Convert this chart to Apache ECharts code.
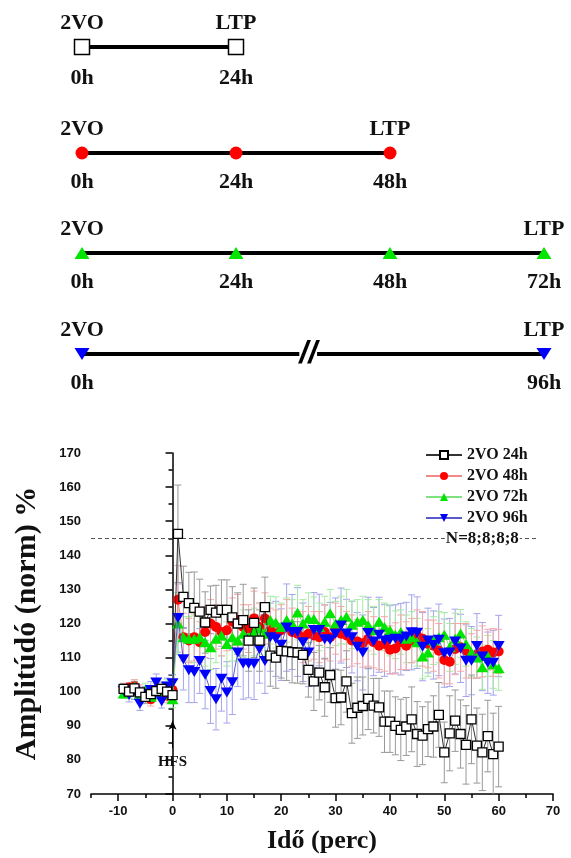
<!DOCTYPE html>
<html>
<head>
<meta charset="utf-8">
<script src="https://cdn.jsdelivr.net/npm/echarts@6/dist/echarts.min.js"></script>
<style>
  html, body { margin: 0; padding: 0; background: #fff; }
  #myChart { width: 571px; height: 858px; }
</style>
</head>
<body>
<div id="myChart"></div>
<script>
// idő (perc)
const minutes = [
  -9, -8, -7, -6, -5, -4, -3, -2, -1, 0,
  1, 2, 3, 4, 5, 6, 7, 8, 9, 10,
  11, 12, 13, 14, 15, 16, 17, 18, 19, 20,
  21, 22, 23, 24, 25, 26, 27, 28, 29, 30,
  31, 32, 33, 34, 35, 36, 37, 38, 39, 40,
  41, 42, 43, 44, 45, 46, 47, 48, 49, 50,
  51, 52, 53, 54, 55, 56, 57, 58, 59, 60
];

const amp24h = [
  100.8, 100.0, 101.0, 99.8, 98.5, 99.3, 100.2, 100.8, 100.0, 99.0,
  146.3, 127.8, 126.0, 124.6, 123.5, 120.3, 124.0, 123.2, 124.0, 124.0,
  121.8, 120.0, 121.0, 115.0, 120.2, 115.0, 124.8, 110.6, 110.0, 112.0,
  111.8, 111.6, 111.5, 110.8, 106.4, 103.0, 105.6, 101.3, 104.9, 98.1,
  98.3, 103.0, 93.7, 95.3, 95.8, 97.9, 95.9, 95.4, 91.2, 91.2,
  90.0, 88.8, 89.8, 91.9, 87.6, 87.1, 89.0, 89.8, 93.2, 82.2,
  87.8, 91.5, 87.6, 84.4, 91.9, 84.2, 82.2, 87.0, 81.7, 83.9
];
const err24h = [
  1.5, 1.5, 2, 1.5, 2, 1.5, 1.5, 2, 1.5, 2,
  14.3, 9, 9, 10.5, 9.5, 9, 7, 8, 8.8, 8.8,
  9, 9, 10.5, 9, 10.2, 9, 8.8, 9, 9, 8,
  8.5, 9, 9, 8.5, 8, 8.5, 8, 8.5, 8, 8.5,
  8, 9, 8.8, 9, 8.5, 9, 8, 8.5, 9, 9,
  8.5, 9, 8.5, 9.5, 9.5, 8.5, 8, 9, 9.5, 8.9,
  11, 9, 10, 11.5, 13, 11, 11.2, 10.5, 12, 11.8
];

const amp48h = [
  100.5, 101.2, 101.5, 99.5, 98.5, 97.8, 100.5, 100.5, 98.8, 100.5,
  127.0, 116.0, 115.0, 116.0, 114.5, 117.5, 120.0, 119.0, 117.5, 118.0,
  120.5, 121.0, 119.0, 118.5, 121.5, 119.0, 121.5, 118.0, 117.0, 118.0,
  119.0, 117.5, 117.0, 116.0, 117.0, 116.5, 116.0, 117.5, 116.0, 118.5,
  117.0, 116.5, 115.0, 114.7, 114.2, 115.5, 114.5, 113.5, 114.0, 112.3,
  112.7, 114.5, 113.5, 115.0, 116.5, 115.5, 114.0, 113.5, 112.0, 109.3,
  108.8, 112.5, 113.0, 112.0, 110.5, 111.0, 111.8, 112.3, 111.5, 111.8
];
const err48h = [
  2, 1.5, 2, 2.5, 1.5, 2, 2, 1.5, 2, 2.5,
  10, 7, 6.5, 7, 6, 7.5, 7, 6.5, 7, 6,
  7, 7.5, 6.5, 7, 8, 7, 7.5, 6.5, 7, 7.5,
  8, 7, 6.5, 7.5, 8, 7, 7.5, 8, 7, 7.5,
  8, 7, 7.5, 6.5, 7, 8, 7.5, 7, 8, 7,
  7.5, 8, 7, 6.5, 7.5, 8, 7, 7.5, 8, 7,
  6.5, 7.5, 7, 8, 6.5, 7, 7.5, 6, 7, 6.5
];

const amp72h = [
  99.5, 100.0, 101.5, 99.0, 100.5, 98.5, 101.0, 99.2, 101.5, 97.8,
  120.0, 116.0, 115.5, 115.5, 116.0, 114.5, 113.0, 115.5, 116.5, 114.0,
  116.0, 115.0, 117.0, 116.0, 117.5, 118.5, 117.0, 121.0, 120.3, 119.0,
  121.0, 120.0, 123.2, 120.0, 121.5, 121.3, 119.0, 120.5, 123.0, 120.0,
  121.0, 122.0, 119.6, 120.5, 121.0, 119.5, 118.0, 120.5, 119.0, 118.0,
  116.7, 117.5, 115.5, 116.0, 114.5, 110.3, 111.5, 115.0, 116.0, 116.7,
  113.0, 115.5, 117.1, 114.0, 111.5, 110.0, 107.2, 110.5, 108.0, 106.9
];
const err72h = [
  1.5, 2, 2, 1.5, 2, 2, 1.5, 2, 2, 2.5,
  9, 6, 6.5, 7, 6, 7, 6.5, 7, 6, 6.5,
  7, 6, 7, 6.5, 7, 7.5, 6.5, 7, 7.5, 7,
  6.5, 7, 8, 7, 7.5, 6.5, 7, 7.5, 7, 6.5,
  7, 8, 7, 6.5, 7, 7.5, 7, 6.5, 7, 7.5,
  7, 6.5, 7, 7.5, 7, 6.5, 7, 7, 7.5, 6.5,
  7, 7.5, 7, 6.5, 7, 6, 6.5, 6, 7, 6.5
];

const amp96h = [
  100.3, 99.0, 100.2, 96.5, 99.5, 100.5, 102.7, 97.2, 101.5, 102.5,
  121.6, 109.5, 106.3, 105.8, 109.0, 105.0, 100.2, 97.8, 103.8, 99.8,
  102.8, 111.5, 108.3, 108.2, 108.2, 112.5, 109.0, 116.0, 115.5, 113.8,
  118.8, 117.5, 117.5, 114.5, 111.5, 118.1, 118.1, 115.4, 115.2, 117.0,
  119.4, 117.1, 116.0, 113.2, 111.5, 117.2, 114.7, 116.7, 115.0, 115.2,
  115.5, 115.4, 116.2, 117.4, 117.3, 113.2, 115.0, 113.7, 115.2, 111.3,
  111.5, 114.7, 112.7, 109.1, 109.1, 113.4, 110.3, 108.5, 108.5, 113.4
];
const err96h = [
  2, 2, 2.5, 2, 2, 2.5, 2.5, 2, 2.5, 2.5,
  10, 9, 9.5, 9, 9.5, 10, 9.5, 9, 9.5, 9,
  9.5, 10, 10.5, 10, 10.5, 10, 9.5, 10, 11, 10.5,
  12.8, 11, 13, 11.5, 10, 11, 10.5, 10, 11, 10.5,
  11, 10, 10.5, 10, 11, 10.5, 10, 11, 10.5, 10,
  10, 10.5, 10, 11, 10.5, 10, 9.5, 10, 10.5, 10,
  10, 9.5, 10, 10.5, 10, 9.5, 10, 9, 9.5, 9
];

const seriesNames = ["2VO 24h", "2VO 48h", "2VO 72h", "2VO 96h"];
const xLabelValues = [-10, 0, 10, 20, 30, 40, 50, 60, 70];
const xMinorValues = [-15, -5, 5, 15, 25, 35, 45, 55, 65];
const nLevel = 145;
const nText = "N=8;8;8;8";
const hfsArrow = [83.5, 91.5];

// idővonalak (felső ábra)
const timelineHours = [[0, 24], [0, 24, 48], [0, 24, 48, 72], [0, 96]];
const startEvent = "2VO";
const endEvent = "LTP";
const breakAt = 47;

const serif = "Liberation Serif";
const sans = "Liberation Sans";

const looks = [
  { symbol: "rect", size: 9, rotate: 0, fill: "#fff", border: "#000", line: "#333", bar: "#999999", big: 15 },
  { symbol: "circle", size: 10, rotate: 0, fill: "#ff0000", border: "#ff0000", line: "#f08a8a", bar: "#f4a8a8", big: 13 },
  { symbol: "triangle", size: [12, 10], rotate: 0, fill: "#00e600", border: "#00e600", line: "#7fe07f", bar: "#a6eaa6", big: [15, 12] },
  { symbol: "triangle", size: [12, 10], rotate: 180, fill: "#0000ff", border: "#0000ff", line: "#5a5ad0", bar: "#a4a4ea", big: [15, 12] }
];
const amps = [amp24h, amp48h, amp72h, amp96h];
const errs = [err24h, err48h, err72h, err96h];

function pairs(vals) {
  return minutes.map((m, i) => [m, vals[i]]);
}
function triples(vals, e) {
  return minutes.map((m, i) => [m, vals[i], e[i]]);
}
function errorBars(color) {
  return function (params, api) {
    let x = api.value(0), v = api.value(1), e = api.value(2);
    let hi = api.coord([x, v + e]);
    let lo = api.coord([x, v - e]);
    let w = 3.5;
    let st = { stroke: color, lineWidth: 1 };
    return {
      type: "group",
      children: [
        { type: "line", shape: { x1: hi[0], y1: hi[1], x2: lo[0], y2: lo[1] }, style: st },
        { type: "line", shape: { x1: hi[0] - w, y1: hi[1], x2: hi[0] + w, y2: hi[1] }, style: st },
        { type: "line", shape: { x1: lo[0] - w, y1: lo[1], x2: lo[0] + w, y2: lo[1] }, style: st }
      ]
    };
  };
}

let chart = echarts.init(document.getElementById("myChart"));

let grids = [{ left: 91, right: 18, top: 453, bottom: 64 }];
let xAxes = [
  {
    gridIndex: 0, type: "value", min: -15, max: 70,
    name: "Idő (perc)", nameLocation: "middle", nameGap: 34,
    nameTextStyle: { fontFamily: serif, fontWeight: "bold", fontSize: 26, color: "#111" },
    axisLine: { lineStyle: { color: "#000", width: 1.5 } },
    axisTick: { show: true, length: 7, inside: false, customValues: xLabelValues, lineStyle: { color: "#000", width: 1.5 } },
    axisLabel: { customValues: xLabelValues, margin: 11, fontFamily: sans, fontWeight: "bold", fontSize: 13, color: "#111" },
    splitLine: { show: false }
  },
  {
    gridIndex: 0, type: "value", min: -15, max: 70, position: "bottom",
    axisLine: { show: false },
    axisTick: { show: true, length: 4, customValues: xMinorValues, lineStyle: { color: "#000", width: 1.5 } },
    axisLabel: { show: false },
    splitLine: { show: false }
  }
];
let yAxes = [
  {
    gridIndex: 0, type: "value", min: 70, max: 170, interval: 10,
    name: "Amplitúdó (norm) %", nameLocation: "middle", nameGap: 49,
    nameTextStyle: { fontFamily: serif, fontWeight: "bold", fontSize: 30, color: "#111" },
    axisLine: { show: true, lineStyle: { color: "#000", width: 1.5 } },
    axisTick: { show: true, length: 7, lineStyle: { color: "#000", width: 1.5 } },
    minorTick: { show: true, splitNumber: 2, length: 4, lineStyle: { color: "#000", width: 1.5 } },
    axisLabel: { margin: 10, fontFamily: sans, fontWeight: "bold", fontSize: 13, color: "#111" },
    splitLine: { show: false }
  }
];

let series = [];

// hibasávok
for (let k = 3; k >= 0; k--) {
  series.push({
    type: "custom",
    xAxisIndex: 0,
    yAxisIndex: 0,
    data: triples(amps[k], errs[k]),
    encode: { x: 0, y: 1 },
    renderItem: errorBars(looks[k].bar),
    clip: true,
    silent: true,
    z: 1
  });
}

// görbék: 48h, 72h, 96h alul, 24h felül
[1, 2, 3, 0].forEach((k, order) => {
  let lk = looks[k];
  let s = {
    name: seriesNames[k],
    type: "line",
    xAxisIndex: 0,
    yAxisIndex: 0,
    data: pairs(amps[k]),
    symbol: lk.symbol,
    symbolSize: lk.size,
    symbolRotate: lk.rotate,
    showAllSymbol: true,
    itemStyle: { color: lk.fill, borderColor: lk.border, borderWidth: k === 0 ? 1.3 : 0 },
    lineStyle: { color: lk.line, width: 1 },
    z: 3 + order,
    silent: true
  };
  if (k === 0) {
    s.markLine = {
      silent: true,
      symbol: ["none", "none"],
      animation: false,
      data: [
        [
          { coord: [-15, nLevel], lineStyle: { type: [4, 3], color: "#555", width: 1 }, label: { show: false } },
          { coord: [67.2, nLevel] }
        ],
        [
          {
            coord: [0, hfsArrow[0]], symbol: "none",
            lineStyle: { type: "solid", color: "#000", width: 1 },
            label: { show: true, position: "start", formatter: "HFS", distance: 7, fontFamily: serif, fontWeight: "bold", fontSize: 15, color: "#111" }
          },
          { coord: [0, hfsArrow[1]], symbol: "arrow", symbolSize: [6, 9] }
        ]
      ]
    };
    s.markPoint = {
      silent: true,
      animation: false,
      data: [
        {
          coord: [57, nLevel], symbol: "rect", symbolSize: 0,
          label: { show: true, position: "inside", formatter: nText, fontFamily: serif, fontWeight: "bold", fontSize: 17, color: "#111", backgroundColor: "#fff", padding: [0, 1] }
        }
      ]
    };
  }
  series.push(s);
});

// felső idővonal-ábrák: grid 1..4, x tengely 2..5, y tengely 1..4
const rowY = [47, 153, 253, 354];
timelineHours.forEach((hours, r) => {
  let gi = r + 1;
  let xi = xAxes.length;
  let yi = yAxes.length;
  let lk = looks[r];
  grids.push({ left: 82, right: 27, top: rowY[r] - 10, height: 20 });
  xAxes.push({ gridIndex: gi, type: "value", min: 0, max: r === 3 ? 96 : 72, show: false });
  yAxes.push({ gridIndex: gi, type: "value", min: -1, max: 1, show: false });
  let line = {
    type: "line",
    xAxisIndex: xi,
    yAxisIndex: yi,
    data: hours.map(h => [h, 0]),
    symbol: lk.symbol,
    symbolSize: lk.big,
    symbolRotate: lk.rotate,
    itemStyle: { color: lk.fill, borderColor: lk.border, borderWidth: r === 0 ? 1.5 : 0 },
    lineStyle: { color: "#000", width: 4 },
    label: {
      show: true, position: "bottom", distance: 12,
      formatter: p => p.value[0] + "h",
      fontFamily: serif, fontWeight: "bold", fontSize: 22, color: "#111"
    },
    silent: true,
    z: 3
  };
  if (r === 3) {
    line.markPoint = {
      silent: true,
      animation: false,
      data: [
        {
          coord: [breakAt, 0], symbol: "rect", symbolSize: 0,
          label: { show: true, position: "inside", formatter: "//", fontFamily: sans, fontStyle: "italic", fontWeight: "bold", fontSize: 32, color: "#000", backgroundColor: "#fff", padding: 0 }
        }
      ]
    };
  }
  series.push(line);
  series.push({
    type: "scatter",
    xAxisIndex: xi,
    yAxisIndex: yi,
    data: [
      { name: startEvent, value: [hours[0], 0] },
      { name: endEvent, value: [hours[hours.length - 1], 0] }
    ],
    symbolSize: 0,
    itemStyle: { opacity: 1 },
    label: {
      show: true, position: "top", distance: 13, formatter: "{b}",
      fontFamily: serif, fontWeight: "bold", fontSize: 22, color: "#111"
    },
    silent: true,
    z: 4
  });
});

let option = {
  animation: false,
  backgroundColor: "#fff",
  legend: {
    data: seriesNames,
    orient: "vertical",
    left: 420,
    top: 442,
    itemWidth: 36,
    itemHeight: 10,
    itemGap: 5,
    textStyle: { fontFamily: serif, fontWeight: "bold", fontSize: 16, lineHeight: 16, color: "#111" }
  },
  grid: grids,
  xAxis: xAxes,
  yAxis: yAxes,
  series: series
};

chart.setOption(option);
</script>
</body>
</html>
